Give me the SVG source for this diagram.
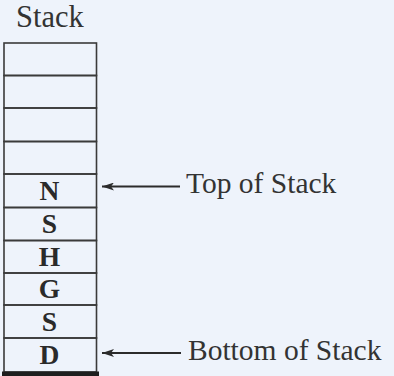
<svg xmlns="http://www.w3.org/2000/svg" width="394" height="376" viewBox="0 0 394 376">
  <defs>
    <marker id="head" viewBox="0 0 12 8" refX="12" refY="4" markerWidth="12" markerHeight="8" markerUnits="userSpaceOnUse" orient="auto">
      <path d="M12,4 L0,0 L3,4 L0,8 Z" fill="#2b2b2b"/>
    </marker>
  </defs>
  <style>
    .cell { fill: none; stroke: #3a3a3a; stroke-width: 1.6; }
    .val { font-family: 'Liberation Serif', 'DejaVu Serif', serif; font-weight: bold; font-size: 27.5px; fill: #2a2a2a; text-anchor: middle; }
    .lbl { font-family: 'Liberation Serif', 'DejaVu Serif', serif; font-size: 29.5px; fill: #333; }
    .conn { stroke: #2b2b2b; stroke-width: 2; fill: none; }
  </style>
  <rect width="394" height="376" fill="#eef3fb"/>

  <text class="lbl" x="16" y="27" style="font-size:30.5px">Stack</text>

  <!-- stack cells, top to bottom -->
  <g id="cell-1"><rect class="cell" x="4" y="43" width="92.5" height="32.5"/></g>
  <g id="cell-2"><rect class="cell" x="4" y="75.5" width="92.5" height="32.5"/></g>
  <g id="cell-3"><rect class="cell" x="4" y="108" width="92.5" height="33.5"/></g>
  <g id="cell-4"><rect class="cell" x="4" y="141.5" width="92.5" height="32.5"/></g>
  <g id="cell-N"><rect class="cell" x="4" y="174" width="92.5" height="33.5"/><text class="val" x="49.5" y="199.5">N</text></g>
  <g id="cell-S1"><rect class="cell" x="4" y="207.5" width="92.5" height="33"/><text class="val" x="49.5" y="233">S</text></g>
  <g id="cell-H"><rect class="cell" x="4" y="240.5" width="92.5" height="32.5"/><text class="val" x="49.5" y="266">H</text></g>
  <g id="cell-G"><rect class="cell" x="4" y="273" width="92.5" height="32"/><text class="val" x="49.5" y="297.5">G</text></g>
  <g id="cell-S2"><rect class="cell" x="4" y="305" width="92.5" height="33"/><text class="val" x="49.5" y="330.5">S</text></g>
  <g id="cell-D"><rect class="cell" x="4" y="338" width="92.5" height="34"/><text class="val" x="49.5" y="364">D</text></g>
  <rect x="2" y="371.5" width="97" height="5" fill="#1e1e1e"/>

  <g id="top-label"><text class="lbl" x="186" y="193">Top of Stack</text></g>
  <g id="bottom-label"><text class="lbl" x="188" y="360">Bottom of Stack</text></g>

  <g id="connectors">
    <line class="conn" x1="180" y1="186.5" x2="102" y2="186.5" marker-end="url(#head)"/>
    <line class="conn" x1="181" y1="353" x2="102" y2="353" marker-end="url(#head)"/>
  </g>
</svg>
